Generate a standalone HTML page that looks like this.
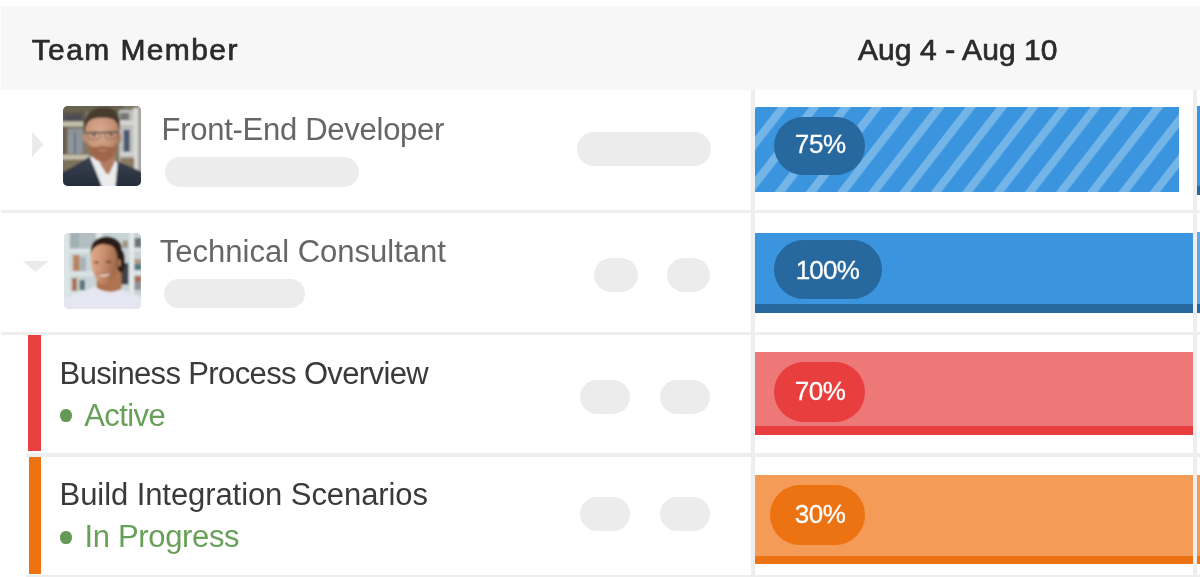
<!DOCTYPE html>
<html lang="en">
<head>
<meta charset="utf-8">
<title>Team Workload</title>
<style>
html,body{margin:0;padding:0;background:#fff;}
html{width:1200px;height:577px;overflow:hidden;}
body{width:1200px;height:577px;overflow:hidden;position:relative;font-family:"Liberation Sans",sans-serif;}
#clip{position:absolute;left:0;top:0;width:1200px;height:577px;overflow:hidden;}
#wrap{position:absolute;left:0;top:0;width:1240px;height:610px;filter:blur(0.45px);}
.abs{position:absolute;}
.hdr{left:1px;top:6px;width:1229px;height:83.5px;background:#f7f7f7;}
.hsep{left:1px;width:1229px;height:3.9px;background:#eeeeee;}
.vsep{top:89.5px;width:3.6px;height:500px;background:#eeeeee;}
.t{position:absolute;white-space:nowrap;line-height:1;font-size:31px;}
.h{font-size:30px;color:#2b2b2b;-webkit-text-stroke:0.7px #2b2b2b;}
.g1{color:#666;}
.g2{color:#3a3a3a;}
.gr{color:#68a05a;}
.pill{position:absolute;background:#ececec;border-radius:20px;}
.badge{position:absolute;border-radius:30px;}
.pct{position:absolute;color:#fff;font-size:26px;letter-spacing:0.1px;-webkit-text-stroke:0.3px #fff;line-height:1;white-space:nowrap;}
</style>
</head>
<body>
<div id="clip">
<div id="wrap">
<div class="abs hdr"></div>
<div class="t h" id="t_team" style="left:31.7px;top:34.8px;letter-spacing:1.4px;">Team Member</div>
<div class="t h" id="t_date" style="left:858px;top:34.9px;letter-spacing:0.08px;">Aug 4 - Aug 10</div>

<!-- separators -->
<div class="abs hsep" style="top:209.5px;"></div>
<div class="abs hsep" style="top:331.7px;height:3.8px;"></div>
<div class="abs hsep" style="top:453.2px;height:4px;left:26px;width:1204px;"></div>
<div class="abs hsep" style="top:575px;height:12px;left:26px;width:1204px;"></div>
<div class="abs vsep" style="left:751px;"></div>
<div class="abs vsep" style="left:1192.7px;width:4px;"></div>

<!-- row 1 -->
<svg class="abs" style="left:31.5px;top:132px;" width="12" height="25" viewBox="0 0 12 25"><path d="M0 0 L11.5 12.5 L0 25 Z" fill="#eaeaea"/></svg>
<div class="abs" id="av1" style="left:63px;top:106.2px;width:78.2px;height:79.6px;border-radius:5px;background:#8a8778;overflow:hidden;">
<svg width="78.2" height="79.6" viewBox="0 0 78 80" preserveAspectRatio="none" style="position:absolute;left:0;top:0;">
<defs><filter id="bl1" x="-10%" y="-10%" width="120%" height="120%"><feGaussianBlur stdDeviation="1.25"/></filter>
<radialGradient id="fc1" cx="0.42" cy="0.4" r="0.7"><stop offset="0" stop-color="#d9ab92"/><stop offset="0.55" stop-color="#c89478"/><stop offset="1" stop-color="#a87458"/></radialGradient>
<linearGradient id="su1" x1="0" y1="0" x2="0" y2="1"><stop offset="0" stop-color="#3a4452"/><stop offset="1" stop-color="#222b38"/></linearGradient>
</defs>
<g filter="url(#bl1)">
<rect x="-4" y="-4" width="86" height="88" fill="#7d7866"/>
<rect x="-4" y="-4" width="64" height="10" fill="#67634f"/>
<rect x="-4" y="6" width="26" height="10" fill="#5a574e"/>
<rect x="2" y="9" width="16" height="5" fill="#4a4c58"/>
<rect x="-4" y="15.5" width="24" height="5" fill="#c5bfae"/>
<rect x="-4" y="21" width="9" height="28" fill="#6c5e4e"/>
<rect x="4.5" y="23" width="15" height="25" fill="#8e949c"/>
<rect x="11" y="26" width="1.6" height="22" fill="#666c78"/>
<rect x="-4" y="49" width="30" height="5" fill="#c4bdaa"/>
<rect x="-4" y="54" width="26" height="14" fill="#7c725c"/>
<rect x="56" y="4" width="26" height="66" fill="#bdbdbb"/>
<rect x="57" y="15" width="13" height="4" fill="#d6d6d4"/>
<rect x="57" y="46" width="16" height="4" fill="#d2d2d0"/>
<rect x="70" y="2" width="5" height="66" fill="#d8d8d6"/>
<rect x="75" y="-4" width="6" height="70" fill="#a2a2a0"/>
<rect x="60.5" y="24" width="6" height="22" fill="#4a5672"/>
<rect x="57" y="7" width="9" height="7" fill="#76766f"/>
<rect x="57" y="52" width="14" height="10" fill="#8a7a60"/>
<!-- suit -->
<path d="M-4 68 L10 61 L26 51 L34 56 L50 56 L55 56 L70 62 L82 68 L82 84 L-4 84 Z" fill="url(#su1)"/>
<!-- shirt -->
<path d="M26.5 50.5 L31 52 L40 56 L50 54 L54.5 57 L52 84 L40 84 L33 66 Z" fill="#ececef"/>
<!-- neck -->
<path d="M36 48 L52 48 L51 58 L45.5 69 L42.5 67 L36.5 57 Z" fill="#b27c60"/>
<!-- ears -->
<ellipse cx="21.8" cy="32" rx="2.3" ry="4.5" fill="#bd8a72"/>
<ellipse cx="56" cy="32" rx="2" ry="4.5" fill="#a8725c"/>
<!-- face -->
<path d="M22.5 24 C22 10 30 6 39.5 6 C49 6 56 10 55.5 24 C56 36 53 47 47 52.5 C43 56 36 56 32 52.5 C26 47 22.5 36 22.5 24 Z" fill="url(#fc1)"/>
<!-- hair -->
<path d="M21.5 26 C19.5 9 28 1.5 41 1.5 C54 1.5 58.5 10 56.5 26 C55.5 19 53.5 15 49 13 C42 11 31 11.5 27.5 14 C24 16.5 22.8 20 21.5 26 Z" fill="#4a3a2f"/>
<!-- beard -->
<path d="M25 37 C27 43 31 41.5 39.5 40 C47 41.5 51 43 53.8 37 C54.5 48 48 56 39.5 56 C31 56 25 48 25 37 Z" fill="#a0664a"/>
<ellipse cx="39.5" cy="44.5" rx="4.5" ry="1.1" fill="#b88068"/>
<!-- glasses -->
<path d="M21.5 26.3 L56.3 25.5 L56.3 27.1 L21.5 27.9 Z" fill="#55524c"/>
<rect x="25" y="26" width="12" height="7.5" rx="2.5" fill="none" stroke="#6a645c" stroke-width="0.8"/>
<rect x="41.8" y="25.6" width="12" height="7.5" rx="2.5" fill="none" stroke="#6a645c" stroke-width="0.8"/>
<ellipse cx="31" cy="29.3" rx="2.2" ry="1" fill="#5a4a40"/>
<ellipse cx="47.8" cy="29" rx="2.2" ry="1" fill="#5a4a40"/>
</g>
</svg>
</div>
<div class="t g1" id="t_fe" style="left:161.50px;top:114.10px;letter-spacing:-0.27px;">Front-End Developer</div>
<div class="pill" style="left:164.5px;top:157px;width:194px;height:29.5px;"></div>
<div class="pill" style="left:576.6px;top:131.5px;width:134px;height:34px;"></div>

<!-- row 2 -->
<svg class="abs" style="left:22px;top:260.5px;" width="27" height="12" viewBox="0 0 27 12"><path d="M0.5 0 L26.5 0 L13.5 11 Z" fill="#eaeaea"/></svg>
<div class="abs" id="av2" style="left:63.7px;top:232.7px;width:77.5px;height:76.7px;border-radius:5px;background:#c6d0d2;overflow:hidden;">
<svg width="77.5" height="76.7" viewBox="0 0 77.5 76.7" preserveAspectRatio="none" style="position:absolute;left:0;top:0;">
<defs><filter id="bl2" x="-10%" y="-10%" width="120%" height="120%"><feGaussianBlur stdDeviation="1.25"/></filter>
<linearGradient id="fc2" x1="0" y1="0" x2="1" y2="0.25"><stop offset="0" stop-color="#e2ad8e"/><stop offset="0.45" stop-color="#cf9474"/><stop offset="1" stop-color="#a06a4c"/></linearGradient>
</defs>
<g filter="url(#bl2)">
<rect x="-4" y="-4" width="86" height="85" fill="#c9d4d6"/>
<rect x="-4" y="-4" width="9.5" height="85" fill="#dde4e6"/>
<rect x="6" y="-4" width="26" height="20" fill="#b2bec1"/>
<rect x="6" y="0" width="9" height="15" fill="#a3b0b4"/>
<rect x="32" y="-4" width="6" height="14" fill="#e4eaec"/>
<rect x="5" y="15.6" width="24" height="4.6" fill="#dbe3e5"/>
<rect x="9" y="22" width="6.6" height="16" fill="#b98460"/>
<rect x="16" y="24" width="6" height="14" fill="#aab4b6"/>
<rect x="5" y="38.5" width="26" height="4.6" fill="#dae2e4"/>
<rect x="8" y="45" width="5" height="13" fill="#aa7252"/>
<rect x="15.5" y="47" width="5.5" height="10" fill="#5c747c"/>
<rect x="5" y="58" width="22" height="4" fill="#d8e0e2"/>
<rect x="38" y="-4" width="28" height="70" fill="#c8d3d5"/>
<rect x="58.5" y="7.5" width="5.5" height="7.5" fill="#a39584"/>
<rect x="55" y="30" width="9.5" height="21.5" fill="#3d4246"/>
<rect x="65.5" y="-4" width="4.5" height="85" fill="#e3e9eb"/>
<rect x="70" y="-4" width="10" height="85" fill="#c8d2d4"/>
<rect x="70.5" y="5" width="7" height="9.5" fill="#6c767a"/>
<rect x="70" y="15" width="8" height="3" fill="#e0e6e8"/>
<rect x="70.5" y="26" width="7" height="5" fill="#b09880"/>
<rect x="70.5" y="31" width="7" height="6" fill="#4e7c82"/>
<rect x="70" y="38.5" width="8" height="3" fill="#e0e6e8"/>
<rect x="70.5" y="43" width="7" height="6" fill="#a66e54"/>
<rect x="70.5" y="49" width="7" height="8" fill="#8e9294"/>
<!-- shirt -->
<path d="M-4 68 C2 65 8 62 16 59.5 C23 57.5 28 55 31 53 L56 55.5 C62 59 70 60.5 82 66 L82 82 L-4 82 Z" fill="#e5e6f1"/>
<!-- neck -->
<path d="M33 44 L50 34 L57.5 34 L57.5 56 C50 60 40 60 32.5 54.5 Z" fill="#b0734f"/>
<!-- bun / hair back -->
<ellipse cx="56.8" cy="28" rx="4.2" ry="11.5" fill="#2c1e18"/>
<ellipse cx="42.5" cy="15.5" rx="15.3" ry="12" fill="#2b1d17"/>
<!-- face -->
<path d="M26.8 22 C27 12 33 9 40 10 C48 11 53.5 16 53.5 26 C53.5 36 51 44 46.5 49 C43.5 52.5 38.5 52.5 35 49 C29.5 43.5 26.4 33 26.8 22 Z" fill="url(#fc2)"/>
<ellipse cx="55.2" cy="30" rx="1.8" ry="4" fill="#a8704f"/>
<!-- hairline -->
<path d="M26.2 21 C27 9.5 34 4 43 4 C52 4.5 58 11 56.5 24 C54.5 17 51 13.5 45 12 C38 10.5 31 11 26.2 21 Z" fill="#2b1d17"/>
<!-- eyes, brows -->
<ellipse cx="32.5" cy="29.5" rx="2.6" ry="1.1" fill="#6a4534"/>
<ellipse cx="44.5" cy="28.8" rx="2.8" ry="1.1" fill="#5e3c2e"/>
<!-- smile -->
<path d="M33.5 40.5 C37 42.5 42 42 46 39.5 C44 44 37 45 33.5 40.5 Z" fill="#f2e6e0"/>
<path d="M32.5 40 C37 42 42 41.5 46.8 38.8" stroke="#9a5846" stroke-width="0.8" fill="none"/>
</g>
</svg>
</div>
<div class="t g1" id="t_tc" style="left:159.80px;top:236.30px;letter-spacing:0.00px;">Technical Consultant</div>
<div class="pill" style="left:163.5px;top:279px;width:141.5px;height:29px;"></div>
<div class="pill" style="left:594px;top:257.7px;width:43.6px;height:34px;"></div>
<div class="pill" style="left:666.8px;top:257.7px;width:43.6px;height:34px;"></div>

<!-- row 3 -->
<div class="abs" style="left:28px;top:335px;width:12.5px;height:116px;background:#e84040;"></div>
<div class="t g2" id="t_bp" style="left:59.60px;top:357.50px;letter-spacing:-0.63px;">Business Process Overview</div>
<div class="abs" style="left:60px;top:408.8px;width:11.6px;height:13.2px;border-radius:48%;background:#649a55;"></div>
<div class="t gr" id="t_ac" style="left:84.30px;top:399.70px;letter-spacing:-0.60px;">Active</div>
<div class="pill" style="left:580px;top:379.8px;width:50.4px;height:33.8px;"></div>
<div class="pill" style="left:659.9px;top:379.8px;width:50.2px;height:33.8px;"></div>

<!-- row 4 -->
<div class="abs" style="left:28.7px;top:457.2px;width:12.5px;height:117.3px;background:#ec7212;"></div>
<div class="t g2" id="t_bi" style="left:59.60px;top:478.80px;letter-spacing:-0.08px;">Build Integration Scenarios</div>
<div class="abs" style="left:60px;top:530.8px;width:11.6px;height:13.2px;border-radius:48%;background:#649a55;"></div>
<div class="t gr" id="t_ip" style="left:84.60px;top:521.10px;letter-spacing:-0.35px;">In Progress</div>
<div class="pill" style="left:580px;top:497.3px;width:50.4px;height:33.8px;"></div>
<div class="pill" style="left:659.9px;top:497.3px;width:50.2px;height:33.8px;"></div>

<!-- bars -->
<div class="abs" id="bar1" style="left:755px;top:106.8px;width:424.3px;height:85px;background:#3a95de;overflow:hidden;">
<svg width="425" height="85" style="position:absolute;left:0;top:0;">
<defs><pattern id="st" width="24.7" height="40" patternUnits="userSpaceOnUse" patternTransform="translate(23 0) rotate(37.8)"><rect x="0" y="0" width="8.2" height="40" fill="#74b5e8"/></pattern></defs>
<rect width="425" height="85" fill="url(#st)"/>
</svg>
</div>
<div class="abs" style="left:1197px;top:106px;width:23px;height:89px;background:#3a95de;"></div>
<div class="abs" style="left:1197px;top:186px;width:23px;height:9px;background:#27689f;"></div>
<div class="badge" style="left:773.6px;top:116.7px;width:91.1px;height:58.4px;background:#27689f;"></div>
<div class="pct" id="p1" style="left:794.8px;top:130.6px;letter-spacing:-0.35px;">75%</div>

<div class="abs" style="left:755px;top:232.6px;width:437.5px;height:80px;background:#3a95de;"></div>
<div class="abs" style="left:755px;top:304.1px;width:437.5px;height:8.5px;background:#27689f;"></div>
<div class="abs" style="left:1197px;top:232.3px;width:23px;height:80.3px;background:#5faae4;"></div>
<div class="abs" style="left:1197px;top:304.1px;width:23px;height:8.5px;background:#27689f;"></div>
<div class="badge" style="left:773.9px;top:239.5px;width:108.4px;height:59.3px;background:#27689f;"></div>
<div class="pct" id="p2" style="left:795.7px;top:256.6px;letter-spacing:-0.8px;">100%</div>

<div class="abs" style="left:755.2px;top:351.8px;width:437.4px;height:83.6px;background:#ee7878;"></div>
<div class="abs" style="left:755.2px;top:426.2px;width:437.4px;height:9.2px;background:#e83e3e;"></div>
<div class="badge" style="left:773.8px;top:362px;width:91px;height:59.7px;background:#e83e3e;"></div>
<div class="pct" id="p3" style="left:794.8px;top:378.2px;letter-spacing:-0.45px;">70%</div>

<div class="abs" style="left:755.2px;top:474.5px;width:437.4px;height:89.8px;background:#f39b57;"></div>
<div class="abs" style="left:755.2px;top:556.2px;width:437.4px;height:8.1px;background:#ec7212;"></div>
<div class="abs" style="left:1197px;top:474.7px;width:23px;height:89.3px;background:#f39b57;"></div>
<div class="abs" style="left:1197px;top:556.2px;width:23px;height:7.8px;background:#ec7212;"></div>
<div class="badge" style="left:769.9px;top:485px;width:95px;height:59.6px;background:#ec7212;"></div>
<div class="pct" id="p4" style="left:794.8px;top:500.6px;letter-spacing:-0.5px;">30%</div>
</div>
</div>
</body>
</html>
